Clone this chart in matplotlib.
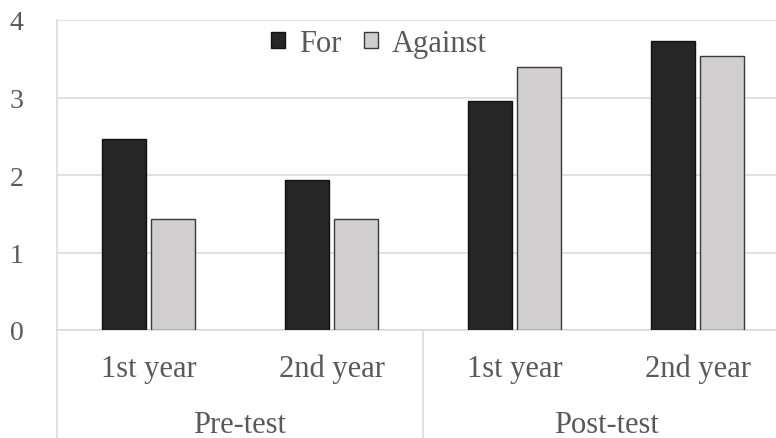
import matplotlib
matplotlib.use("Agg")
import matplotlib.pyplot as plt
import numpy as np

groups = ["Pre-test", "Post-test"]
years = ["1st year", "2nd year", "1st year", "2nd year"]
series = ["For", "Against"]
for_vals = [2.46, 1.935, 2.95, 3.725]
against_vals = [1.43, 1.43, 3.40, 3.53]

txt = "#595959"
grid = "#d9d9d9"
plt.rcParams['font.family'] = ['Liberation Serif', 'DejaVu Serif']

fig = plt.figure(figsize=(7.76, 4.39), dpi=100)
# axes runs past the right edge, like the cropped original
ax = fig.add_axes([57 / 776, 108 / 439, 732 / 776, 310 / 439])

x = np.arange(len(years))
w = 0.238
off = 0.134
ax.bar(x - off, for_vals, w, color="#262626", edgecolor="#111111", linewidth=1.0,
       label=series[0], zorder=3)
ax.bar(x + off, against_vals, w, color="#d0cece", edgecolor="#3a3a3a", linewidth=1.0,
       label=series[1], zorder=3)

ax.set_xlim(-0.5, 3.5)
ax.set_ylim(0, 4)
ax.set_yticks([0, 1, 2, 3, 4])
ax.yaxis.grid(True, color=grid, linewidth=1.1, zorder=0)
ax.set_axisbelow(True)
for s in ["top", "right"]:
    ax.spines[s].set_visible(False)
ax.spines["left"].set_color(grid)
ax.spines["left"].set_linewidth(1.1)
ax.spines["bottom"].set_color(grid)
ax.spines["bottom"].set_linewidth(1.1)
ax.tick_params(axis="y", length=0, pad=24, labelsize=20, labelcolor=txt)
ax.tick_params(axis="x", length=0, pad=17, labelsize=22, labelcolor=txt)
ax.set_xticks(x)
ax.set_xticklabels(years)

# group labels and separators below the axis
tr = ax.get_xaxis_transform()
for i, g in enumerate(groups):
    ax.text(i * 2 + 0.5, -0.305, g, transform=tr, ha="center", va="center",
            fontsize=22, color=txt)
for xv in [-0.5, 1.5]:
    ax.plot([xv, xv], [0, -0.36], transform=tr, color=grid, linewidth=1.1,
            clip_on=False)

ax.legend(loc="upper center", bbox_to_anchor=(0.44, 1.06), ncol=2, frameon=False,
          fontsize=22, labelcolor=txt, handlelength=0.45, handleheight=0.45,
          handletextpad=0.45, columnspacing=0.75)

fig.savefig("out.png", dpi=100)
